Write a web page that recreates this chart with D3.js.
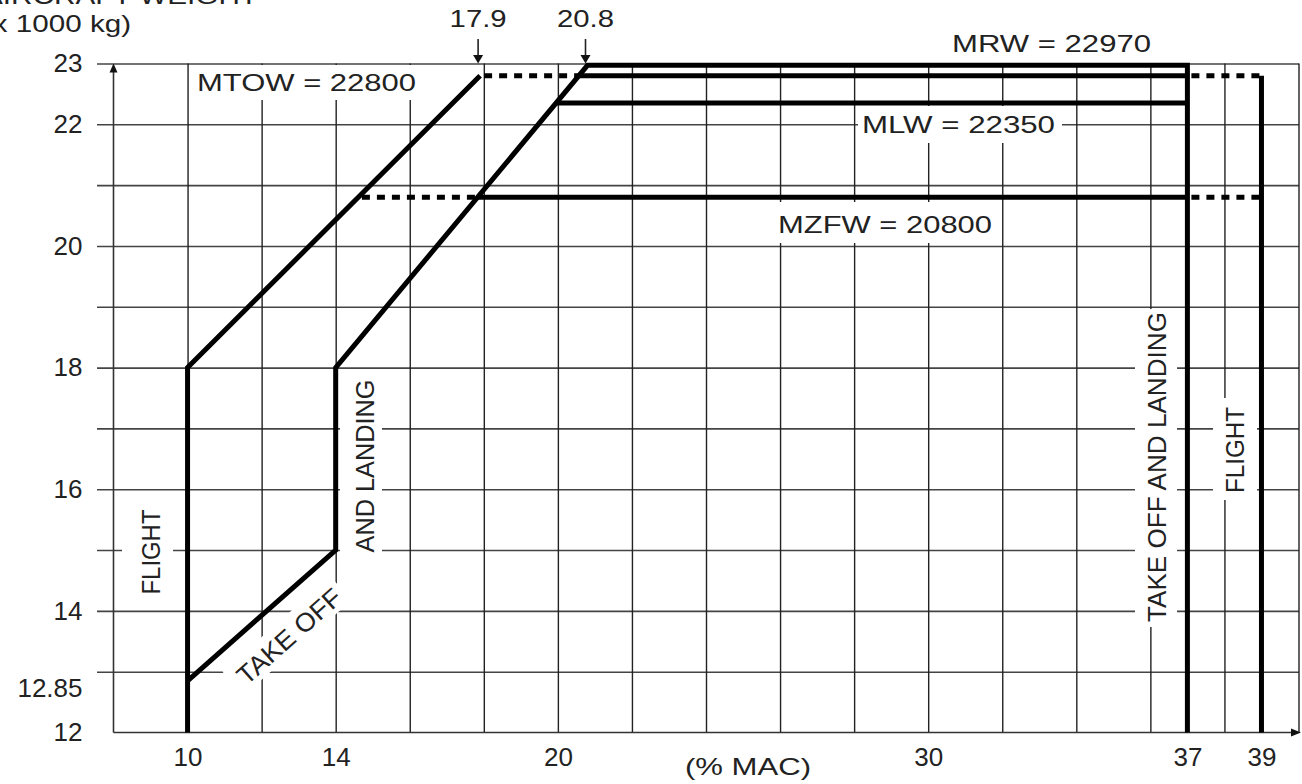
<!DOCTYPE html>
<html><head><meta charset="utf-8">
<script src="https://cdn.jsdelivr.net/npm/d3@7"></script>
<style>
body{margin:0;background:#fff}
svg{display:block}
text{font-family:"Liberation Sans",Arial,sans-serif;fill:#222}
</style>
</head><body>
<svg id="c" width="1302" height="784"></svg>
<script>
// ---- data ----
const xTickLabels = [10, 14, 20, 30, 37, 39];
const yTickLabels = [23, 22, 20, 18, 16, 14, 12.85, 12];
const xGridValues = [10,12,14,16,18,20,22,24,26,28,30,32,34,36,38,40];
const yGridValues = [13,14,15,16,17,18,19,20,21,22,23];
// envelope lines: [%MAC, weight x1000 kg]
const flightLeft = [[10,12],[10,18],[17.9,22.8]];
const takeoffLanding = [[10,12.85],[14,15],[14,18],[20.8,22.97],[37,22.97],[37,12]];
const flightRight = [[39,22.8],[39,12]];
const solidLimits = [
  {name:"MTOW", w:22.8,  from:20.57, to:37},
  {name:"MLW",  w:22.35, from:19.95, to:37},
  {name:"MZFW", w:20.8,  from:17.83, to:37}
];
const dottedLimits = [
  {w:22.8, from:17.9,  to:20.57},
  {w:22.8, from:37,    to:39},
  {w:20.8, from:14.6,  to:17.83},
  {w:20.8, from:37,    to:39}
];
const arrowMarks = [17.9, 20.8];

// ---- chart ----
const svg = d3.select("#c");
const x = d3.scaleLinear().domain([8,40]).range([113.5,1298.5]);
const y = d3.scaleLinear().domain([12,23]).range([732.5,63.5]);
const line = d3.line().x(d=>x(d[0])).y(d=>y(d[1]));

// horizontal grid
svg.append("g").attr("transform","translate(97,0)")
  .call(d3.axisLeft(y).tickValues(yGridValues).tickSize(-(1299-97)).tickFormat(""))
  .call(g=>g.select(".domain").remove())
  .selectAll("line").attr("stroke","#444").attr("stroke-width",1.6);
// vertical grid
svg.append("g").attr("transform",`translate(0,${y(12)})`)
  .call(d3.axisBottom(x).tickValues(xGridValues).tickSize(-(y(12)-y(23))).tickFormat(""))
  .call(g=>g.select(".domain").remove())
  .selectAll("line").attr("stroke","#222").attr("stroke-width",1.4);

// white boxes behind labels (break the grid)
const boxes = [
  [190,65,230,35],[858,106,204,37],[774,202,223,41],
  [122,497,51,106],[340,372,42,186],[1135,309,42,318],[1213,398,44,102]
];
svg.append("g").selectAll("rect").data(boxes).join("rect")
  .attr("x",d=>d[0]).attr("y",d=>d[1]).attr("width",d=>d[2]).attr("height",d=>d[3])
  .attr("fill","#fff");
svg.append("rect").attr("x",-72).attr("y",-16).attr("width",144).attr("height",32)
  .attr("fill","#fff").attr("transform","translate(287,636) rotate(-41.5)");

// axes lines with arrows
const defs = svg.append("defs");
svg.append("line").attr("x1",x(8)).attr("x2",x(8)).attr("y1",y(12)).attr("y2",y(23)+8)
  .attr("stroke","#333").attr("stroke-width",1.6);
svg.append("path").attr("d",`M${x(8)-4},${y(23)+9}L${x(8)+4},${y(23)+9}L${x(8)},${y(23)}Z`).attr("fill","#111");
svg.append("line").attr("x1",x(8)).attr("x2",1292).attr("y1",y(12)).attr("y2",y(12))
  .attr("stroke","#333").attr("stroke-width",1.6);
svg.append("path").attr("d",`M1291,${y(12)-4}L1291,${y(12)+4}L1301,${y(12)}Z`).attr("fill","#111");

// axis labels
const yAx = svg.append("g").attr("transform",`translate(${x(8)},0)`)
  .call(d3.axisLeft(y).tickValues(yTickLabels).tickSize(0).tickPadding(31).tickFormat(d=>String(d)))
  .call(g=>g.select(".domain").remove())
  .attr("font-family",null).attr("font-size",null);
yAx.selectAll("text").style("font-size","26px").attr("fill","#222")
  .filter(d=>d===12.85).attr("dy","0.6em");
const xAx = svg.append("g").attr("transform",`translate(0,${y(12)})`)
  .call(d3.axisBottom(x).tickValues(xTickLabels).tickSize(0).tickPadding(15).tickFormat(d=>String(d)))
  .call(g=>g.select(".domain").remove())
  .attr("font-family",null).attr("font-size",null);
xAx.selectAll("text").style("font-size","26px").attr("fill","#222");

// envelope lines
const thick = {stroke:"#000", w:5};
[flightLeft, takeoffLanding, flightRight].forEach(p=>{
  svg.append("path").attr("d",line(p)).attr("fill","none")
    .attr("stroke",thick.stroke).attr("stroke-width",thick.w).attr("stroke-linejoin","miter");
});
svg.append("g").selectAll("line").data(solidLimits).join("line")
  .attr("x1",d=>x(d.from)).attr("x2",d=>x(d.to)).attr("y1",d=>y(d.w)).attr("y2",d=>y(d.w))
  .attr("stroke","#000").attr("stroke-width",5);
svg.append("g").selectAll("line").data(dottedLimits).join("line")
  .attr("x1",d=>x(d.from)+4).attr("x2",d=>x(d.to)).attr("y1",d=>y(d.w)).attr("y2",d=>y(d.w))
  .attr("stroke","#000").attr("stroke-width",5).attr("stroke-dasharray","8,7");

// top arrows
const ag = svg.append("g").selectAll("g").data(arrowMarks).join("g");
ag.append("line").attr("x1",d=>x(d)-2).attr("x2",d=>x(d)-2).attr("y1",39).attr("y2",56)
  .attr("stroke","#222").attr("stroke-width",1.6);
ag.append("path").attr("d",d=>`M${x(d)-7},55L${x(d)+3},55L${x(d)-2},${y(23)}Z`).attr("fill","#111");
ag.append("text").attr("x",d=>x(d)-2).attr("y",27).attr("text-anchor","middle")
  .style("font-size","24px").attr("textLength",57).attr("lengthAdjust","spacingAndGlyphs")
  .text(d=>d.toFixed(1));

// text labels
function hText(t, x0, base, len, fs, anchor){
  svg.append("text").attr("x",x0).attr("y",base).attr("text-anchor",anchor||"start")
    .style("font-size",(fs||24)+"px").attr("textLength",len).attr("lengthAdjust","spacingAndGlyphs").text(t);
}
function rText(t, cx, cy, len, rot, fs){
  svg.append("text").attr("transform",`translate(${cx},${cy}) rotate(${rot})`)
    .attr("text-anchor","middle").attr("dy","0.36em")
    .style("font-size",(fs||25)+"px").attr("textLength",len).attr("lengthAdjust","spacingAndGlyphs").text(t);
}
hText("AIRCRAFT WEIGHT", 258, 4, 275, 24, "end");
hText("(x 1000 kg)", 131, 32, 148, 24, "end");
hText("MTOW = 22800", 197, 91, 219);
hText("MRW = 22970", 952, 52, 199);
hText("MLW = 22350", 862, 133, 193);
hText("MZFW = 20800", 778, 233, 214);
hText("(% MAC)", 748, 775, 126, 24, "middle");
rText("FLIGHT", 151, 552, 85, -90);
rText("AND LANDING", 365, 466, 173, -90);
rText("TAKE OFF AND LANDING", 1157, 467, 310, -90, 26);
rText("FLIGHT", 1235, 450, 86, -90);
rText("TAKE OFF", 289, 636, 130, -41.5, 26);
</script>
</body></html>
